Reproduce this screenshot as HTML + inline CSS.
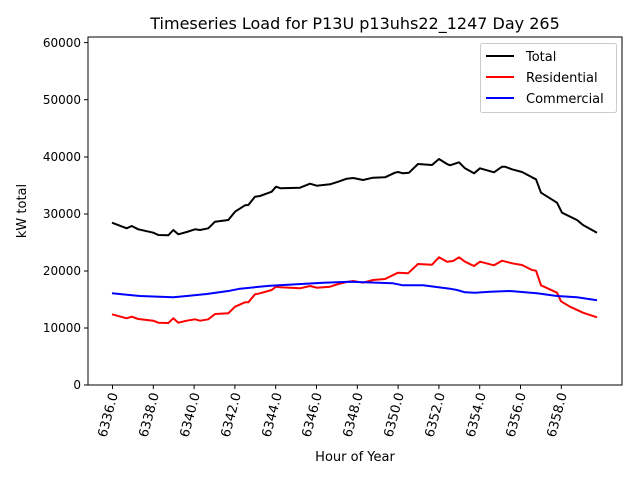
<!DOCTYPE html>
<html><head><meta charset="utf-8"><style>html,body{margin:0;padding:0;background:#fff}svg{display:block}</style></head><body>
<svg width="640" height="480" viewBox="0 0 640 480" xmlns="http://www.w3.org/2000/svg" font-family="'DejaVu Sans', 'Liberation Sans', sans-serif">
<rect width="640" height="480" fill="#fff"/>
<text x="355" y="29" font-size="16" text-anchor="middle">Timeseries Load for P13U p13uhs22_1247  Day 265</text>
<g fill="none" stroke-width="2" stroke-linejoin="round">
<polyline stroke="#000" points="112,222.7 126.7,228.3 131.7,226 138.3,229.3 153.3,232.7 158.3,235 168.3,235.3 173.3,230 178.3,234.3 186.7,232 195,229.3 200,230 208.3,228.3 215,221.7 228.3,220 235,211.7 245,205.3 248.3,205 255,196.7 260,196 271.7,191.7 276,186.7 280.7,188.3 300,187.7 310,183.7 316.7,185.7 330,184.3 338.3,181.7 346.7,178.7 353.3,178 363,180 373,177.7 385,177.3 395,172.7 398,172 403,173.3 409,172.7 418,164 432,165 439,159 447,164 450,165.3 459,162.3 465,168.3 474,173.3 480,168.3 494,172.3 502,166.7 505,166.7 512,169.3 522,172 532,177.3 536,179.3 541,192.7 557,202.7 562,212.7 577,220 583,225 597,232.7"/>
<polyline stroke="#f00" points="112,314.3 126.7,318.3 131.7,316.7 138.3,319 153.3,320.7 158.3,322.7 168.3,323 173.3,318.3 178.3,322.7 186.7,320.7 195,319.3 200,320.7 208.3,319.3 215,314 228.3,313.3 235,306.7 245,302.3 248.3,302.3 255,294.3 260,293.3 271.7,290 276,286.7 280.7,287.3 300,288.3 310,286 316.7,287.7 330,286.7 338.3,284 346.7,282 353.3,281 363,282.7 373,280 385,279 398,272.7 408,273.3 418,264 432,264.7 439,257.3 447,261.7 453,261 459,257.3 465,261.7 474,266 480,261.7 494,265.3 502,260.7 512,263.3 522,265 532,270 536,270.7 541,285.3 557,292.7 561,301.3 570,306.7 583,312.7 597,317.3"/>
<polyline stroke="#00f" points="112,293.3 140,296 173.3,297.3 186.7,296 206.7,294 230,290.7 240,288.7 270,285.7 323.3,282.7 350,281.7 393,283.3 403,285.3 423,285.3 450,288.7 457,290 465,292.3 475,292.7 490,291.7 510,291 537,293.3 557,296 577,297.3 597,300.3"/>
</g>
<rect x="88" y="37" width="534" height="348" fill="none" stroke="#000" stroke-width="1"/>
<g stroke="#000" stroke-width="1">
<line x1="84" y1="385" x2="88" y2="385"/><line x1="84" y1="328" x2="88" y2="328"/><line x1="84" y1="271" x2="88" y2="271"/><line x1="84" y1="214" x2="88" y2="214"/><line x1="84" y1="157" x2="88" y2="157"/><line x1="84" y1="99.7" x2="88" y2="99.7"/><line x1="84" y1="42.6" x2="88" y2="42.6"/>
</g>
<g font-size="12" text-anchor="end">
<text x="81" y="389">0</text><text x="81" y="332">10000</text><text x="81" y="275">20000</text><text x="81" y="218">30000</text><text x="81" y="161">40000</text><text x="81" y="104">50000</text><text x="81" y="47">60000</text>
</g>
<g stroke="#000" stroke-width="1">
<line x1="112.5" y1="385" x2="112.5" y2="389"/><line x1="153.3" y1="385" x2="153.3" y2="389"/><line x1="194.1" y1="385" x2="194.1" y2="389"/><line x1="234.9" y1="385" x2="234.9" y2="389"/><line x1="275.7" y1="385" x2="275.7" y2="389"/><line x1="316.5" y1="385" x2="316.5" y2="389"/><line x1="357.3" y1="385" x2="357.3" y2="389"/><line x1="398.1" y1="385" x2="398.1" y2="389"/><line x1="438.9" y1="385" x2="438.9" y2="389"/><line x1="479.7" y1="385" x2="479.7" y2="389"/><line x1="520.5" y1="385" x2="520.5" y2="389"/><line x1="561.3" y1="385" x2="561.3" y2="389"/>
</g>
<g font-size="13" text-anchor="end">
<text transform="translate(118,394) rotate(-75)">6336.0</text>
<text transform="translate(159,394) rotate(-75)">6338.0</text>
<text transform="translate(200,394) rotate(-75)">6340.0</text>
<text transform="translate(241,394) rotate(-75)">6342.0</text>
<text transform="translate(282,394) rotate(-75)">6344.0</text>
<text transform="translate(322,394) rotate(-75)">6346.0</text>
<text transform="translate(363,394) rotate(-75)">6348.0</text>
<text transform="translate(404,394) rotate(-75)">6350.0</text>
<text transform="translate(445,394) rotate(-75)">6352.0</text>
<text transform="translate(486,394) rotate(-75)">6354.0</text>
<text transform="translate(526,394) rotate(-75)">6356.0</text>
<text transform="translate(567,394) rotate(-75)">6358.0</text>
</g>
<text x="355" y="461" font-size="13" text-anchor="middle">Hour of Year</text>
<text transform="translate(26,211) rotate(-90)" font-size="13" text-anchor="middle">kW total</text>
<rect x="480.5" y="43.5" width="136" height="69" rx="2" fill="#fff" stroke="#ccc"/>
<g stroke-width="2"><line x1="486" y1="56" x2="514" y2="56" stroke="#000"/><line x1="486" y1="77" x2="514" y2="77" stroke="#f00"/><line x1="486" y1="98" x2="514" y2="98" stroke="#00f"/></g>
<g font-size="13"><text x="526" y="61">Total</text><text x="526" y="82">Residential</text><text x="526" y="103">Commercial</text></g>
</svg>
</body></html>
